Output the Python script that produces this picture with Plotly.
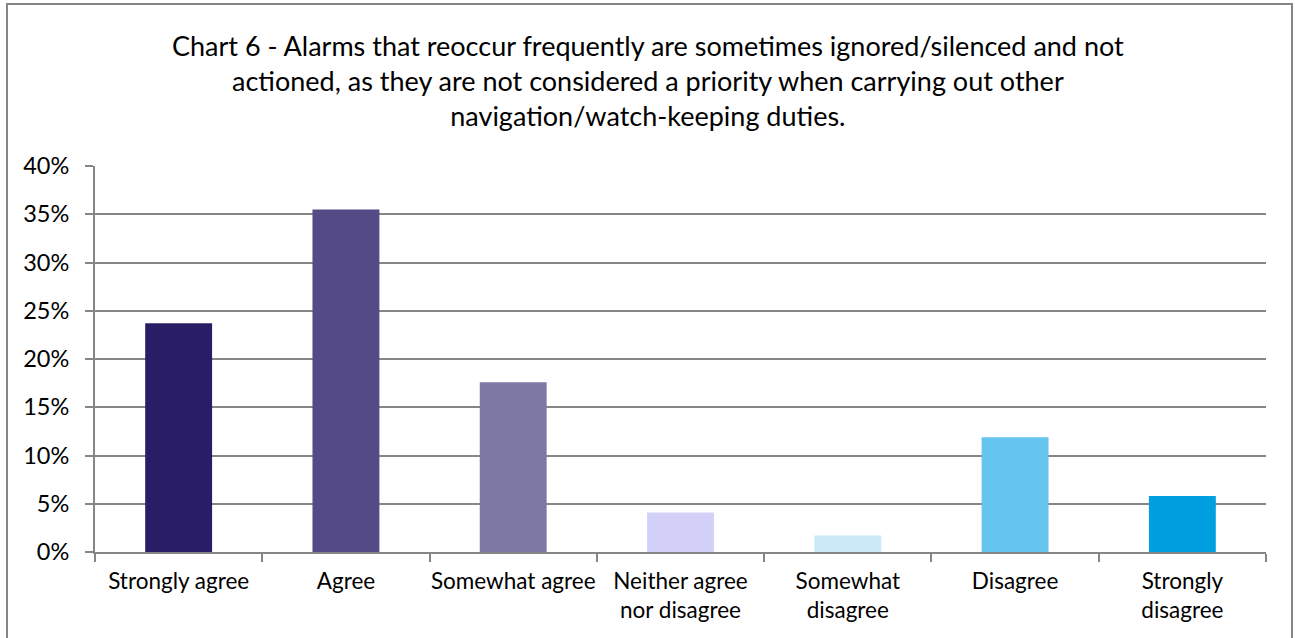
import plotly.graph_objects as go

categories = ["Strongly agree", "Agree", "Somewhat agree", "Neither agree<br>nor disagree",
              "Somewhat<br>disagree", "Disagree", "Strongly<br>disagree"]
values = [0.237, 0.355, 0.176, 0.041, 0.017, 0.119, 0.058]
colors = ["#291E66", "#544A85", "#7E78A4", "#D3D1FA", "#C9EAF6", "#66C5EF", "#009FE0"]
y_ticks = [0, 0.05, 0.10, 0.15, 0.20, 0.25, 0.30, 0.35, 0.40]
y_tick_labels = ["0%", "5%", "10%", "15%", "20%", "25%", "30%", "35%", "40%"]
title_text = ("Chart 6 - Alarms that reoccur frequently are sometimes ignored/silenced and not<br>"
              "actioned, as they are not considered a priority when carrying out other<br>"
              "navigation/watch-keeping duties.")

FONT = "Lato"
W, H = 1295, 638
L, R, T, B = 95, 29, 166, 86
PW, PH = W - L - R, H - T - B

fig = go.Figure(go.Bar(
    x=categories, y=values, marker=dict(color=colors, line=dict(width=0)),
    width=0.4, hoverinfo="skip",
))

fig.update_layout(
    width=W, height=H,
    margin=dict(l=L, r=R, t=T, b=B, autoexpand=False),
    paper_bgcolor="white", plot_bgcolor="white",
    font=dict(family=FONT, color="#000000"),
    showlegend=False,
    xaxis=dict(
        type="category", showgrid=False,
        showline=True, linecolor="#868686", linewidth=2,
        ticks="outside", tickson="boundaries", ticklen=8, tickcolor="#868686", tickwidth=2,
        tickfont=dict(family=FONT, size=22.5, color="#000000"),
        tickangle=0, ticklabelstandoff=8,
        fixedrange=True,
    ),
    yaxis=dict(
        range=[0, 0.40], tickvals=y_ticks, ticktext=y_tick_labels,
        showgrid=True, gridcolor="#868686", gridwidth=2,
        showline=True, linecolor="#868686", linewidth=2,
        ticks="outside", ticklen=8, tickcolor="#868686", tickwidth=2,
        tickfont=dict(family=FONT, size=23.5, color="#000000"),
        ticklabelstandoff=11,
        zeroline=False, fixedrange=True,
    ),
    annotations=[dict(text=title_text, xref="paper", yref="paper",
                      x=(W / 2 - L) / PW, y=(H - B - 27) / PH,
                      xanchor="center", yanchor="top", showarrow=False, align="center",
                      font=dict(family=FONT, size=27, color="#000000"))],
    shapes=[dict(type="rect", xref="paper", yref="paper",
                 x0=(7 - L) / PW, x1=(1292 - L) / PW,
                 y0=(H - B - 660) / PH, y1=(H - B - 4) / PH,
                 line=dict(color="#868686", width=2), fillcolor="rgba(0,0,0,0)", layer="below")],
)

fig.write_html("out.html", config={"displayModeBar": False},
               post_script="document.body.style.margin='0';")
